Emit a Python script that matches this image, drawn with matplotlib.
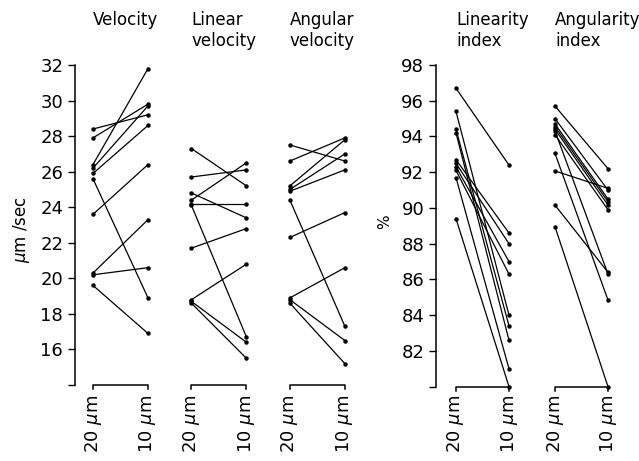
import matplotlib.pyplot as plt
import matplotlib.transforms as mtransforms

# paired values, 20 um vs 10 um
vel_20 = [28.4, 27.9, 26.4, 26.2, 25.9, 25.6, 23.6, 20.3, 20.2, 19.6]
vel_10 = [29.2, 29.8, 31.8, 29.7, 28.6, 18.9, 26.4, 23.3, 20.6, 16.9]

lin_20 = [27.3, 25.7, 24.8, 24.4, 24.2, 24.1, 21.7, 18.8, 18.7, 18.6]
lin_10 = [25.2, 26.1, 23.4, 26.5, 24.2, 16.7, 22.8, 20.8, 16.4, 15.5]

ang_20 = [27.5, 26.6, 25.2, 25.0, 24.9, 24.4, 22.3, 18.9, 18.8, 18.6]
ang_10 = [26.6, 27.9, 27.8, 27.0, 26.1, 17.3, 23.7, 20.6, 16.5, 15.2]

lidx_20 = [96.7, 95.4, 94.4, 94.2, 92.7, 92.5, 92.3, 92.1, 91.7, 89.4]
lidx_10 = [92.4, 84.0, 83.4, 82.6, 88.6, 88.0, 87.0, 86.3, 81.0, 80.0]

aidx_20 = [95.7, 95.0, 94.7, 94.55, 94.4, 94.1, 94.3, 93.05, 92.07, 90.16, 88.95]
aidx_10 = [92.2, 91.0, 90.5, 90.35, 90.16, 89.9, 86.3, 84.85, 91.1, 86.4, 80.0]

left_titles = ['Velocity', 'Linear\nvelocity', 'Angular\nvelocity']
right_titles = ['Linearity\nindex', 'Angularity\nindex']
cond_labels = ['20 $\\mu$m', '10 $\\mu$m']

W, H = 639, 461
fs = 12

fig = plt.figure(figsize=(W / 100, H / 100), dpi=100)
ax1 = fig.add_axes([75 / W, 76 / H, 285 / W, 320 / H])
ax2 = fig.add_axes([436 / W, 74.3 / H, 194 / W, 321.7 / H])


def panel(ax, groups, titles, step, ylim, yticks):
    trans = mtransforms.blended_transform_factory(ax.transData, fig.transFigure)
    for g, (a, b) in enumerate(groups):
        x0 = g * step
        x1 = x0 + 1
        for ya, yb in zip(a, b):
            ax.plot([x0, x1], [ya, yb], color='black', lw=0.9,
                    marker='o', ms=2.2, clip_on=False)
        # bracket at bottom
        ax.plot([x0, x0, x1, x1], [ylim[0] - 0.25, ylim[0], ylim[0], ylim[0] - 0.25],
                color='black', lw=1.1, clip_on=False)
        ax.text(x0, 1 - 11 / H, titles[g], transform=trans, ha='left', va='top',
                fontsize=fs, linespacing=1.2)
        for xx, lab in zip([x0, x1], cond_labels):
            ax.text(xx, 1 - 395 / H, lab, transform=trans, rotation=90,
                    ha='center', va='top', fontsize=fs + 1)
    ax.set_ylim(*ylim)
    ax.set_yticks(yticks)
    ax.set_yticklabels([''] + [str(t) for t in yticks[1:]])
    ax.tick_params(axis='y', direction='out', length=5, width=1, labelsize=fs + 1)
    ax.set_xticks([])
    for s in ['top', 'right', 'bottom']:
        ax.spines[s].set_visible(False)
    ax.spines['left'].set_linewidth(1.1)


ax1.set_xlim(-18 / 55, -18 / 55 + 285 / 55)
panel(ax1, [(vel_20, vel_10), (lin_20, lin_10), (ang_20, ang_10)],
      left_titles, 1.79, (14, 32), list(range(14, 33, 2)))

ax2.set_xlim(-20 / 53, -20 / 53 + 194 / 53)
panel(ax2, [(lidx_20, lidx_10), (aidx_20, aidx_10)],
      right_titles, 1.868, (80, 98), list(range(80, 99, 2)))

fig.text(22 / W, 1 - 230 / H, '$\\mu$m /sec', rotation=90, ha='center', va='center',
         fontsize=fs)
fig.text(385 / W, 1 - 222 / H, '%', rotation=90, ha='center', va='center',
         fontsize=fs - 1)

fig.savefig('out.png', dpi=100)
